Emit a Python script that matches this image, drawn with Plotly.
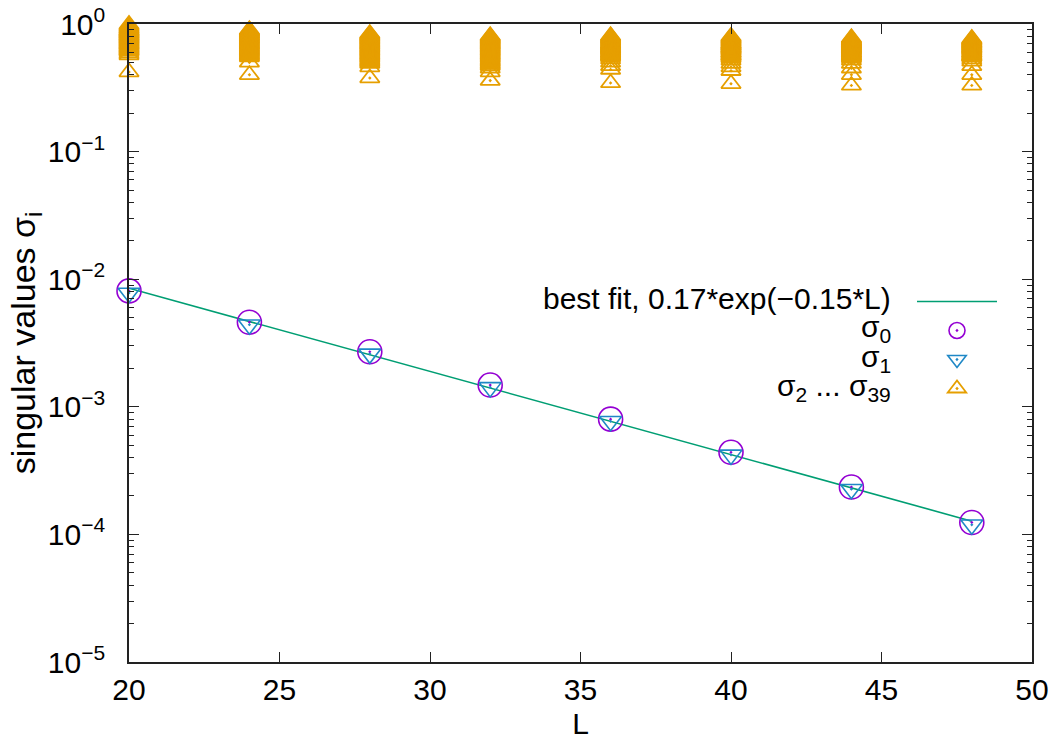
import plotly.graph_objects as go

# ---------------- data ----------------
L_vals = [20, 24, 28, 32, 36, 40, 44, 48]

sigma0 = [0.0081, 0.0046, 0.0027, 0.00148, 0.00080, 0.00044, 0.000235, 0.000124]
sigma1 = [0.0078, 0.0044, 0.0026, 0.00142, 0.00077, 0.00042, 0.000226, 0.000119]

fit_L = [20, 48]
fit_vals = [0.0085, 0.000127]

# sigma_2 ... sigma_39 (38 values for each L)
rest_L20 = [0.99, 0.97, 0.95, 0.93, 0.92, 0.90, 0.89, 0.88, 0.87, 0.86,
            0.85, 0.84, 0.83, 0.82, 0.81, 0.80, 0.79, 0.78, 0.77, 0.76,
            0.75, 0.74, 0.73, 0.72, 0.71, 0.70, 0.69, 0.68, 0.67, 0.66,
            0.65, 0.64, 0.63, 0.62, 0.61, 0.59, 0.57, 0.42]
rest_L24 = [0.90, 0.89, 0.88, 0.87, 0.86, 0.85, 0.84, 0.83, 0.82, 0.81,
            0.80, 0.79, 0.78, 0.77, 0.76, 0.75, 0.74, 0.73, 0.72, 0.71,
            0.70, 0.69, 0.68, 0.67, 0.66, 0.65, 0.64, 0.63, 0.62, 0.61,
            0.60, 0.59, 0.58, 0.57, 0.56, 0.55, 0.50, 0.40]
rest_L28 = [0.84, 0.83, 0.82, 0.81, 0.80, 0.79, 0.78, 0.77, 0.76, 0.75,
            0.74, 0.73, 0.72, 0.71, 0.70, 0.69, 0.68, 0.67, 0.66, 0.65,
            0.64, 0.63, 0.62, 0.61, 0.60, 0.59, 0.58, 0.57, 0.56, 0.55,
            0.54, 0.53, 0.52, 0.51, 0.50, 0.49, 0.46, 0.377]
rest_L32 = [0.81, 0.80, 0.79, 0.78, 0.77, 0.76, 0.75, 0.74, 0.73, 0.72,
            0.71, 0.70, 0.69, 0.68, 0.67, 0.66, 0.65, 0.64, 0.63, 0.62,
            0.61, 0.60, 0.59, 0.58, 0.57, 0.56, 0.55, 0.54, 0.53, 0.52,
            0.51, 0.50, 0.49, 0.48, 0.47, 0.45, 0.42, 0.36]
rest_L36 = [0.81, 0.80, 0.79, 0.78, 0.77, 0.76, 0.75, 0.74, 0.73, 0.72,
            0.71, 0.70, 0.695, 0.69, 0.68, 0.675, 0.67, 0.66, 0.655, 0.65,
            0.64, 0.635, 0.63, 0.62, 0.61, 0.60, 0.595, 0.59, 0.58, 0.57,
            0.565, 0.56, 0.55, 0.53, 0.50, 0.47, 0.44, 0.345]
rest_L40 = [0.80, 0.79, 0.78, 0.77, 0.76, 0.75, 0.74, 0.73, 0.72, 0.71,
            0.70, 0.695, 0.69, 0.68, 0.675, 0.67, 0.66, 0.655, 0.65, 0.64,
            0.635, 0.63, 0.62, 0.61, 0.60, 0.595, 0.59, 0.58, 0.57, 0.565,
            0.56, 0.55, 0.54, 0.52, 0.49, 0.46, 0.43, 0.34]
rest_L44 = [0.78, 0.77, 0.76, 0.75, 0.74, 0.735, 0.73, 0.72, 0.715, 0.71,
            0.70, 0.695, 0.69, 0.68, 0.675, 0.67, 0.66, 0.655, 0.65, 0.64,
            0.635, 0.63, 0.62, 0.61, 0.60, 0.595, 0.59, 0.58, 0.57, 0.565,
            0.56, 0.55, 0.54, 0.52, 0.49, 0.45, 0.40, 0.33]
rest_L48 = [0.77, 0.76, 0.755, 0.75, 0.74, 0.735, 0.73, 0.72, 0.715, 0.71,
            0.70, 0.695, 0.69, 0.68, 0.675, 0.67, 0.66, 0.655, 0.65, 0.64,
            0.635, 0.63, 0.62, 0.61, 0.60, 0.595, 0.59, 0.58, 0.57, 0.565,
            0.56, 0.555, 0.55, 0.53, 0.51, 0.47, 0.40, 0.33]

rest_by_L = [rest_L20, rest_L24, rest_L28, rest_L32, rest_L36, rest_L40, rest_L44, rest_L48]

x_ticks = [20, 25, 30, 35, 40, 45, 50]
y_ticks = [1e-5, 1e-4, 1e-3, 1e-2, 1e-1, 1e0]
y_ticktext = ["10<sup>−5</sup>", "10<sup>−4</sup>", "10<sup>−3</sup>",
              "10<sup>−2</sup>", "10<sup>−1</sup>", "10<sup>0</sup>"]
y_minor = [m * 10.0 ** e for e in range(-5, 0) for m in range(2, 10)]

legend_labels = ["best fit, 0.17*exp(−0.15*L)", "σ<sub>0</sub>", "σ<sub>1</sub>",
                 "σ<sub>2</sub> ... σ<sub>39</sub>"]

# ---------------- styles ----------------
FONT = "Liberation Sans, Arial, sans-serif"
FS = 30
C_FIT = "#009e73"
C_S0 = "#9400d3"
C_S1 = "#1f88c6"
C_REST = "#e69f00"

rest_x, rest_y = [], []
for L, vals in zip(L_vals, rest_by_L):
    for v in vals:
        rest_x.append(L)
        rest_y.append(v)

fig = go.Figure()
fig.add_trace(go.Scatter(x=fit_L, y=fit_vals, mode="lines", name=" ",
                         line=dict(color=C_FIT, width=1.6)))
fig.add_trace(go.Scatter(x=L_vals, y=sigma0, mode="markers", name=" ", cliponaxis=False,
                         marker=dict(symbol="circle-open-dot", size=24, color=C_S0,
                                     line=dict(width=1.6, color=C_S0))))
fig.add_trace(go.Scatter(x=L_vals, y=sigma1, mode="markers", name=" ", cliponaxis=False,
                         marker=dict(symbol="triangle-down-open-dot", size=19, color=C_S1,
                                     line=dict(width=1.6, color=C_S1))))
fig.add_trace(go.Scatter(x=rest_x, y=rest_y, mode="markers", name=" ", cliponaxis=False,
                         marker=dict(symbol="triangle-up-open-dot", size=17, color=C_REST,
                                     line=dict(width=1.8, color=C_REST))))

# legend text (gnuplot style: right-aligned text, sample on the right)
plot_top, plot_bottom = 24, 662
row_px = [298, 328, 358, 387]
for txt, py in zip(legend_labels, row_px):
    fig.add_annotation(x=(893 - 129) / 903, y=(plot_bottom - py) / (plot_bottom - plot_top),
                       xref="paper", yref="paper", text=txt, showarrow=False,
                       xanchor="right", yanchor="middle",
                       font=dict(family=FONT, size=FS, color="black"))

fig.update_layout(
    width=1055, height=744,
    margin=dict(l=129, r=23, t=24, b=82),
    paper_bgcolor="white", plot_bgcolor="white",
    font=dict(family=FONT, size=FS, color="black"),
    showlegend=True,
    legend=dict(x=(912 - 129) / 903, y=(plot_bottom - 282) / (plot_bottom - plot_top),
                xanchor="left", yanchor="top", bgcolor="rgba(0,0,0,0)",
                font=dict(family=FONT, size=20), itemwidth=80, tracegroupgap=0,
                itemsizing="trace"),
    xaxis=dict(range=[20, 50], tickvals=x_ticks, ticks="inside", ticklen=10, tickwidth=1,
               tickcolor="#222", showline=True, linecolor="#222", linewidth=1.6,
               mirror="ticks", showgrid=False, zeroline=False, automargin=False,
               tickfont=dict(family=FONT, size=FS),
               title=dict(text="L", font=dict(family=FONT, size=FS), standoff=8)),
    yaxis=dict(type="log", range=[-5, 0], tickvals=y_ticks, ticktext=y_ticktext,
               ticks="inside", ticklen=10, tickwidth=1, tickcolor="#222",
               showline=True, linecolor="#222", linewidth=1.6, mirror="ticks",
               showgrid=False, zeroline=False, ticklabelstandoff=16, automargin=False,
               minor=dict(tickvals=y_minor, ticks="inside", ticklen=5, tickwidth=1,
                          tickcolor="#222", showgrid=False),
               tickfont=dict(family=FONT, size=FS),
               title=dict(text="singular values σ<sub>i</sub>",
                          font=dict(family=FONT, size=34), standoff=2)),
)

fig.write_html("out.html")
